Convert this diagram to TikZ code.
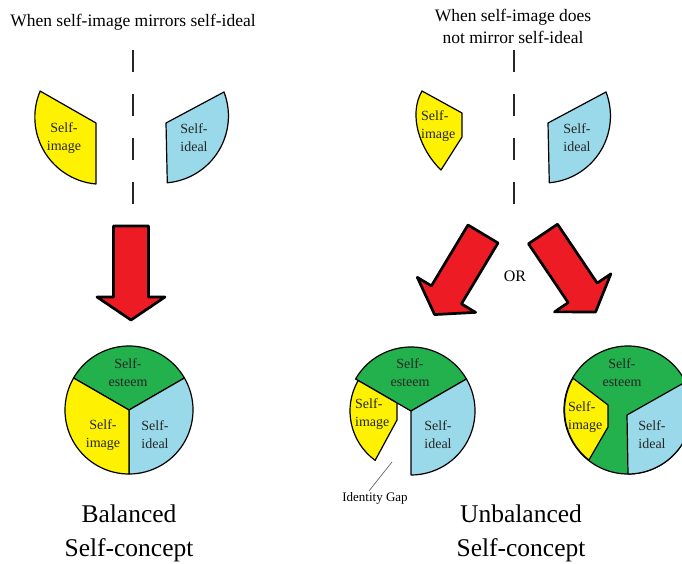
\documentclass[tikz,border=0pt]{standalone}
\usepackage{fontspec}
\setmainfont{Liberation Serif}
\definecolor{paintred}{RGB}{237,28,36}
\definecolor{paintyellow}{RGB}{255,242,0}
\definecolor{paintblue}{RGB}{153,217,234}
\definecolor{paintgreen}{RGB}{34,177,76}

\begin{document}
\begin{tikzpicture}
        [
            x=1pt,
            y=-1pt,
            piece/.style={
                draw=black,
                line width=1.2pt,
                line join=round
            },
            image piece/.style={piece, fill=paintyellow},
            ideal piece/.style={piece, fill=paintblue},
            esteem piece/.style={piece, fill=paintgreen},
            big arrow/.style={
                draw=black,
                fill=paintred,
                line width=2.7pt,
                line join=round
            },
            divider/.style={
                draw=black!85,
                line width=2.4pt,
                dash pattern=on 22pt off 22pt
            },
            part/.style={
                align=center,
                inner sep=0pt,
                text=black!85,
                font=\fontsize{14}{18}\selectfont
            },
            heading/.style={
                align=center,
                inner sep=0pt,
                font=\fontsize{17.5}{22}\selectfont
            },
            verdict/.style={
                align=center,
                inner sep=0pt,
                font=\fontsize{25.5}{34}\selectfont
            }
         ]
        \clip (0,0) rectangle (682,564);

        \node[heading] (head1) at (133,22) {When self-image mirrors self-ideal};
        \node[heading] (head2) at (513,26) {When self-image does\\not mirror self-ideal};
        \draw[divider] (133,50) -- (133,205);
        \draw[divider] (514,50) -- (514,205);

        \draw[image piece] (40,91) -- (96,123) -- (96,184)
            arc[start angle=95, end angle=203, radius=67] -- cycle;
        \draw[ideal piece] (166,123) -- (224,92)
            arc[start angle=-21, end angle=85, radius=67] -- cycle;
        \draw[image piece] (441,170) .. controls (420,150) and (408,115) .. (422,91)
            -- (462,113) -- (462,137) -- cycle;
        \draw[ideal piece] (548,123) -- (606,92)
            arc[start angle=-21, end angle=85, radius=67] -- cycle;
        \node[part] (img1) at (64,138) {Self-\\image};
        \node[part] (ideal1) at (194,138) {Self-\\ideal};
        \node[part, align=left, anchor=west] (img2) at (421,126) {Self-\\image};
        \node[part] (ideal2) at (577,138) {Self-\\ideal};

        \draw[big arrow, shift={(131,226)}] (-17.5,0) -- (17.5,0) -- (17.5,71)
            -- (34,71) -- (0,94) -- (-34,71) -- (-17.5,71) -- cycle;
        \draw[big arrow, shift={(483,234)}, rotate=-31] (-17.5,0) -- (17.5,0) -- (17.5,71)
            -- (34,71) -- (0,94) -- (-34,71) -- (-17.5,71) -- cycle;
        \draw[big arrow, shift={(543,234)}, rotate=34] (-17.5,0) -- (17.5,0) -- (17.5,71)
            -- (34,71) -- (0,94) -- (-34,71) -- (-17.5,71) -- cycle;
        \node[font=\fontsize{16}{18}\selectfont] (or) at (515,276) {OR};

        \coordinate (cL) at (129,410);
        \draw[esteem piece] (cL) -- ++(210:64) arc[start angle=210, end angle=330, radius=64] -- cycle;
        \draw[ideal piece] (cL) -- ++(330:64) arc[start angle=330, end angle=450, radius=64] -- cycle;
        \draw[image piece] (cL) -- ++(90:64) arc[start angle=90, end angle=210, radius=64] -- cycle;
        \node[part] (esteemL) at (128,373) {Self-\\esteem};
        \node[part] (imgL) at (103,435) {Self-\\image};
        \node[part] (idealL) at (155,435) {Self-\\ideal};

        \coordinate (cM) at (411,411);
        \draw[esteem piece] (cM) -- ++(210:64) arc[start angle=210, end angle=330, radius=64] -- cycle;
        \draw[ideal piece] (cM) -- ++(330:64) arc[start angle=330, end angle=450, radius=64] -- cycle;
        \draw[image piece] ([shift={(cM)}]126:61) arc[start angle=126, end angle=210, radius=61]
            -- (397,403) -- (397,420) -- cycle;
        \node[part, align=left, anchor=west] (imgM) at (355,414) {Self-\\image};
        \node[part] (esteemM) at (410,373) {Self-\\esteem};
        \node[part] (idealM) at (438,435) {Self-\\ideal};
        \coordinate (gaptip) at (392,462);
        \node[font=\fontsize{13}{15}\selectfont, inner sep=1pt] (gap) at (375,498) {Identity Gap};
        \draw[black!60, line width=0.7pt] (gaptip) -- ([xshift=-6pt]gap.north);

        \coordinate (cR) at (628,410);
        \draw[esteem piece] (cR) circle[radius=64];
        \draw[image piece] ([shift={(cR)}]128:63.5) arc[start angle=128, end angle=210, radius=63.5]
            -- (608,405) -- (608,427) -- cycle;
        \draw[ideal piece] (627,415) -- ([shift={(cR)}]334:64)
            arc[start angle=334, end angle=450, radius=64] -- cycle;
        \node[part] (esteemR) at (622,373) {Self-\\esteem};
        \node[part, align=left, anchor=west] (imgR) at (568,417) {Self-\\image};
        \node[part] (idealR) at (652,435) {Self-\\ideal};

        \node[verdict] (bal) at (129,533) {Balanced\\Self-concept};
        \node[verdict] (unbal) at (521,533) {Unbalanced\\Self-concept};
    \end{tikzpicture}
\end{document}
